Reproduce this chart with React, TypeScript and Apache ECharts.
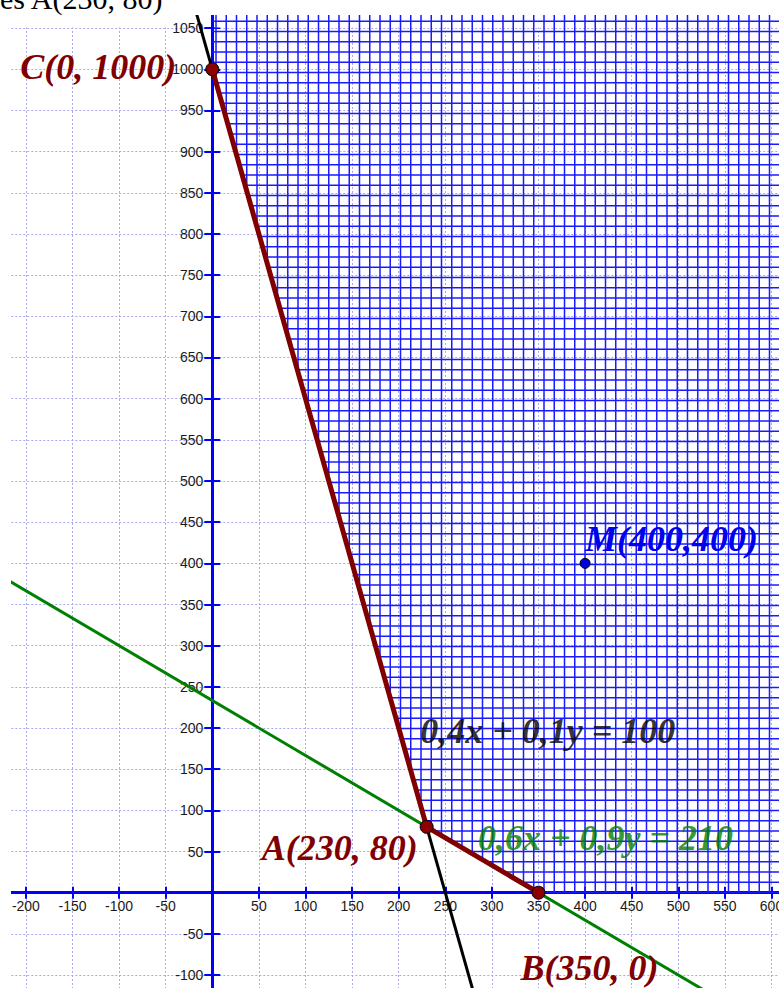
import React, { useEffect, useRef } from "react";
import * as echarts from "echarts";

// ---- axis ranges / ticks (data units) ----
const X_MIN = -250;
const X_MAX = 650;
const Y_MIN = -150;
const Y_MAX = 1100;
const TICK_STEP = 50;
// range of tick labels that the picture shows
const X_LABEL_RANGE = [-200, 600];
const Y_LABEL_RANGE = [-100, 1050];

// ---- feasible region boundary (hatched above it) ----
const regionX = [0, 230, 350, 650];
const regionY = [1000, 80, 0, 0];

// ---- constraint lines ----
const line1X = [-25, 300]; // 0,4x + 0,1y = 100
const line1Y = [1100, -200];
const line2X = [-250, 650]; // 0,6x + 0,9y = 210
const line2Y = [400, -200];

// ---- vertices C, A, B ----
const vertexNames = ["C(0, 1000)", "A(230, 80)", "B(350, 0)"];
const vertexX = [0, 230, 350];
const vertexY = [1000, 80, 0];

// ---- point M ----
const pointName = "M(400,400)";
const pointX = [400];
const pointY = [400];

// ---- equation annotations ----
const equationTexts = ["0,4x + 0,1y = 100", "0,6x + 0,9y = 210"];
const equationX = [223, 285];
const equationY = [196, 66];

const topText = "es A(230, 80)";

const zip = (xs: number[], ys: number[]) => xs.map((x, i) => [x, ys[i]]);

// layout of the plotting area (pixels)
const W = 779;
const H = 988;
const GRID_LEFT = -20.7;
const GRID_RIGHT = -39.1;
const GRID_TOP = -13.04;
const GRID_BOTTOM = -28.2;

function hatchPattern() {
  const s = 41;
  const step = 10.25;
  const w = 1.5;
  let rects = "";
  for (let k = 0; k < 4; k++) {
    const p = k * step;
    rects += `<rect x='${p}' y='0' width='${w}' height='${s}'/>`;
    rects += `<rect x='0' y='${p}' width='${s}' height='${w}'/>`;
  }
  const svg = `<svg xmlns='http://www.w3.org/2000/svg' width='${s}' height='${s}'><g fill='#1a1aff'>${rects}</g></svg>`;
  return {
    image: "data:image/svg+xml;charset=utf-8," + encodeURIComponent(svg),
    imageWidth: s,
    imageHeight: s,
    repeat: "repeat",
    x: 9,
    y: 6,
  };
}

const labelFont = {
  fontFamily: "Liberation Serif",
  fontWeight: "bold",
  fontStyle: "italic",
  fontSize: 36,
};

export default function App() {
  const ref = useRef<HTMLDivElement>(null);

  useEffect(() => {
    if (!ref.current) return;
    const chart = echarts.init(ref.current, null, { renderer: "svg" });

    // pixel positions of the zero lines, from the grid layout
    const gw = W - GRID_LEFT - GRID_RIGHT;
    const gh = H - GRID_TOP - GRID_BOTTOM;
    const zeroX = GRID_LEFT + ((0 - X_MIN) / (X_MAX - X_MIN)) * gw;
    const zeroY = GRID_TOP + ((Y_MAX - 0) / (Y_MAX - Y_MIN)) * gh;
    const leftEdge = GRID_LEFT;
    const rightEdge = W - GRID_RIGHT;
    const topEdge = GRID_TOP;
    const bottomEdge = H - GRID_BOTTOM;

    const blue = "#0000ff";
    const axisLabel = {
      fontFamily: "Liberation Sans",
      fontSize: 14,
      color: "#1a1a1a",
    };
    const split = {
      show: true,
      lineStyle: { color: "#a9a9f2", width: 1, type: [2, 2] },
    };
    const labelIn = (range: number[]) => (v: number) =>
      v === 0 || v < range[0] || v > range[1] ? "" : String(v);

    const vertexOffsets = [
      { align: "right", offset: [-36, -2] },
      { align: "right", offset: [-9, 21] },
      { align: "left", offset: [-18, 75] },
    ];

    const option: any = {
      animation: false,
      backgroundColor: "#fff",
      grid: {
        left: GRID_LEFT,
        right: GRID_RIGHT,
        top: GRID_TOP,
        bottom: GRID_BOTTOM,
        containLabel: false,
        outerBoundsMode: "none",
      },
      xAxis: [
        {
          type: "value",
          min: X_MIN,
          max: X_MAX,
          interval: TICK_STEP,
          position: "bottom",
          offset: -(bottomEdge - zeroY),
          axisLine: { show: true, onZero: false, lineStyle: { color: blue, width: 3 } },
          axisTick: { show: true, length: 6, lineStyle: { color: blue, width: 2 } },
          axisLabel: { ...axisLabel, margin: 6, formatter: labelIn(X_LABEL_RANGE) },
          splitLine: split,
        },
        {
          type: "value",
          min: X_MIN,
          max: X_MAX,
          interval: TICK_STEP,
          position: "top",
          offset: -(zeroY - topEdge),
          axisLine: { show: true, onZero: false, lineStyle: { color: blue, width: 3 } },
          axisTick: { show: true, length: 6, lineStyle: { color: blue, width: 2 } },
          axisLabel: { show: false },
          splitLine: { show: false },
        },
      ],
      yAxis: [
        {
          type: "value",
          min: Y_MIN,
          max: Y_MAX,
          interval: TICK_STEP,
          position: "left",
          offset: -(zeroX - leftEdge),
          axisLine: { show: true, onZero: false, lineStyle: { color: blue, width: 3 } },
          axisTick: { show: true, length: 8, lineStyle: { color: blue, width: 2 } },
          axisLabel: { ...axisLabel, margin: 9, formatter: labelIn(Y_LABEL_RANGE) },
          splitLine: split,
        },
        {
          type: "value",
          min: Y_MIN,
          max: Y_MAX,
          interval: TICK_STEP,
          position: "right",
          offset: -(rightEdge - zeroX),
          axisLine: { show: true, onZero: false, lineStyle: { color: blue, width: 3 } },
          axisTick: { show: true, length: 8, lineStyle: { color: blue, width: 2 } },
          axisLabel: { show: false },
          splitLine: { show: false },
        },
      ],
      series: [
        {
          name: "region",
          type: "line",
          z: 2,
          silent: true,
          data: zip(regionX, regionY),
          symbol: "none",
          lineStyle: { width: 0, opacity: 0 },
          areaStyle: { origin: "end", color: hatchPattern(), opacity: 1 },
        },
        {
          name: "line2",
          type: "line",
          z: 3,
          silent: true,
          data: zip(line2X, line2Y),
          symbol: "none",
          lineStyle: { color: "#008000", width: 3 },
        },
        {
          name: "line1",
          type: "line",
          z: 3,
          silent: true,
          data: zip(line1X, line1Y),
          symbol: "none",
          lineStyle: { color: "#000000", width: 3 },
        },
        {
          name: "boundary",
          type: "line",
          z: 4,
          silent: true,
          data: vertexX.map((x, i) => ({
            value: [x, vertexY[i]],
            label: {
              show: true,
              formatter: vertexNames[i],
              position: "inside",
              verticalAlign: "middle",
              ...labelFont,
              color: "#800000",
              ...vertexOffsets[i],
            },
          })),
          symbol: "circle",
          symbolSize: 13,
          showSymbol: true,
          lineStyle: { color: "#800000", width: 5 },
          itemStyle: { color: "#8b0000", borderColor: "#000", borderWidth: 1 },
        },
        {
          name: "M",
          type: "scatter",
          z: 4,
          silent: true,
          data: zip(pointX, pointY),
          symbolSize: 10,
          itemStyle: { color: "#0000dd", borderColor: "#000", borderWidth: 1, opacity: 1 },
          label: {
            show: true,
            formatter: pointName,
            position: "inside",
            align: "left",
            verticalAlign: "middle",
            offset: [0, -24],
            ...labelFont,
            color: "#0000ee",
          },
        },
        {
          name: "equations",
          type: "scatter",
          z: 5,
          silent: true,
          symbolSize: 1,
          itemStyle: { color: "rgba(0,0,0,0)" },
          data: equationX.map((x, i) => ({
            value: [x, equationY[i]],
            label: {
              show: true,
              formatter: equationTexts[i],
              position: "inside",
              align: "left",
              verticalAlign: "middle",
              ...labelFont,
              color: i === 0 ? "#000000" : "#008000",
            },
          })),
        },
      ],
      graphic: [
        {
          type: "rect",
          z: 1,
          silent: true,
          shape: { x: 11, y: 15, width: 160, height: 12.6 },
          style: { fill: "#fff" },
        },
        {
          type: "rect",
          z: 1,
          silent: true,
          shape: { x: zeroX + 2, y: 15, width: 570, height: 12.6 },
          style: { fill: "#fff" },
        },
        {
          type: "rect",
          z: 100,
          silent: true,
          shape: { x: 0, y: 0, width: W, height: 15 },
          style: { fill: "#fff" },
        },
        {
          type: "rect",
          z: 100,
          silent: true,
          shape: { x: 0, y: 0, width: 11, height: H },
          style: { fill: "#fff" },
        },
        {
          type: "text",
          z: 101,
          silent: true,
          x: 0,
          y: -1.5,
          style: {
            text: topText,
            fontFamily: "Liberation Serif",
            fontSize: 30,
            fill: "#000",
            align: "left",
            verticalAlign: "middle",
          },
        },
      ],
    };

    chart.setOption(option);
    return () => chart.dispose();
  }, []);

  return (
    <div
      ref={ref}
      style={{ position: "absolute", left: 0, top: 0, width: W, height: H, background: "#fff" }}
    />
  );
}
